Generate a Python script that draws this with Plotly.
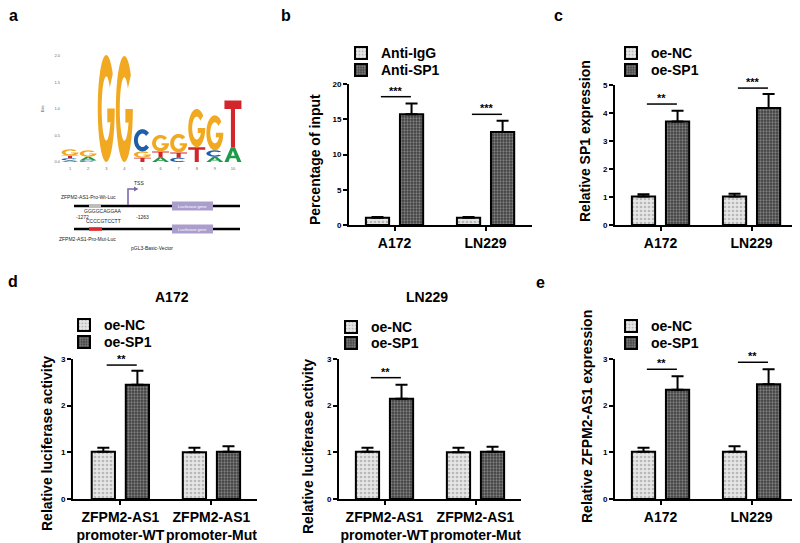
import numpy as np
import plotly.graph_objects as go

# The page body has an 8px margin, so the figure is drawn 8px in and
# reference pixel coordinates are shifted accordingly.
PAD = 8
W, H = 800 - PAD, 543 - PAD
FONT = "Arial, Liberation Sans, sans-serif"


def fx(p):
    return (p - PAD) / W


def fy(p):
    return 1 - (p - PAD) / H


# ---------------- DATA ----------------
# panel a : sequence logo (bits per letter, positions 1..10)
logo_pos = [1, 2, 3, 4, 5, 6, 7, 8, 9, 10]
logo_G = [0.12, 0.12, 2.02, 2.00, 0.12, 0.31, 0.35, 0.72, 0.66, 0.00]
logo_C = [0.04, 0.03, 0.00, 0.00, 0.42, 0.00, 0.08, 0.00, 0.12, 0.00]
logo_T = [0.05, 0.00, 0.00, 0.00, 0.08, 0.11, 0.10, 0.28, 0.00, 0.88]
logo_A = [0.03, 0.07, 0.00, 0.00, 0.00, 0.09, 0.00, 0.00, 0.10, 0.28]
logo_yticks = [0.0, 0.5, 1.0, 1.5, 2.0]

# panel b : ChIP
b_groups = ["A172", "LN229"]
b_igg = [1.04, 1.04]
b_igg_err = [0.08, 0.08]
b_sp1 = [15.7, 13.2]
b_sp1_err = [1.55, 1.6]
b_sig_y = [18.2, 15.7]
b_sig = ["***", "***"]

# panel c : SP1 expression
c_groups = ["A172", "LN229"]
c_nc = [1.02, 1.02]
c_nc_err = [0.08, 0.10]
c_sp1 = [3.70, 4.18]
c_sp1_err = [0.38, 0.50]
c_sig_y = [4.32, 4.89]
c_sig = ["**", "***"]

# panel d : luciferase activity
d_groups = ["ZFPM2-AS1<br>promoter-WT", "ZFPM2-AS1<br>promoter-Mut"]
d1_nc = [1.01, 1.00]
d1_nc_err = [0.09, 0.10]
d1_sp1 = [2.45, 1.01]
d1_sp1_err = [0.30, 0.12]
d1_sig_y = [2.87, None]
d1_sig = ["**", ""]

d2_nc = [1.01, 1.00]
d2_nc_err = [0.09, 0.10]
d2_sp1 = [2.15, 1.01]
d2_sp1_err = [0.30, 0.11]
d2_sig_y = [2.60, None]
d2_sig = ["**", ""]

# panel e : ZFPM2-AS1 expression
e_groups = ["A172", "LN229"]
e_nc = [1.01, 1.01]
e_nc_err = [0.09, 0.12]
e_sp1 = [2.34, 2.46]
e_sp1_err = [0.29, 0.32]
e_sig_y = [2.78, 2.93]
e_sig = ["**", "**"]

# ---------------- STYLE ----------------
OFF = 0.187
BW = 0.255
SIG_L, SIG_R = -0.15, 0.18
LIGHT = dict(shape=".", fgcolor="#8a8a8a", bgcolor="#e6e6e6", size=4, solidity=0.35)
DARK = dict(shape=".", fgcolor="#c4c4c4", bgcolor="#3e3e3e", size=3, solidity=0.45)
LOGO_COL = {"G": "#f2a922", "C": "#1f5ea8", "T": "#d3262b", "A": "#1d9a4a"}

fig = go.Figure()
annotations = []
shapes = []


def bold(size, color="black"):
    return dict(family=FONT, size=size, color=color, weight="bold")


def bar_panel(k, groups, n1, v1, e1, n2, v2, e2, sig_y, sig, leg1, leg2):
    xa, ya = f"x{k}", f"y{k}"
    idx = list(range(len(groups)))
    for name, vals, errs, off, pat, leg in [
        (n1, v1, e1, -OFF, LIGHT, leg1),
        (n2, v2, e2, OFF, DARK, leg2),
    ]:
        fig.add_trace(go.Bar(
            x=[i + off for i in idx], y=vals, width=BW, name=name,
            xaxis=xa, yaxis=ya, legend=leg,
            marker=dict(color=pat["bgcolor"], pattern=pat,
                        line=dict(color="black", width=2)),
            error_y=dict(type="data", array=errs, arrayminus=[0] * len(errs),
                         symmetric=False, color="black", thickness=2, width=6),
        ))
    for i, (sy, st) in enumerate(zip(sig_y, sig)):
        if sy is None:
            continue
        fig.add_trace(go.Scatter(
            x=[i + SIG_L, i + SIG_R], y=[sy, sy], mode="lines",
            line=dict(color="black", width=1.5), xaxis=xa, yaxis=ya,
            showlegend=False, hoverinfo="skip"))
        annotations.append(dict(
            x=i + (SIG_L + SIG_R) / 2, y=sy, xref=xa, yref=ya, text=st,
            showarrow=False, xanchor="center", yanchor="bottom", yshift=-2,
            font=bold(11)))


bar_panel(2, b_groups, "Anti-IgG", b_igg, b_igg_err, "Anti-SP1", b_sp1, b_sp1_err,
          b_sig_y, b_sig, "legend", "legend2")
bar_panel(3, c_groups, "oe-NC", c_nc, c_nc_err, "oe-SP1", c_sp1, c_sp1_err,
          c_sig_y, c_sig, "legend3", "legend4")
bar_panel(4, d_groups, "oe-NC", d1_nc, d1_nc_err, "oe-SP1", d1_sp1, d1_sp1_err,
          d1_sig_y, d1_sig, "legend5", "legend6")
bar_panel(5, d_groups, "oe-NC", d2_nc, d2_nc_err, "oe-SP1", d2_sp1, d2_sp1_err,
          d2_sig_y, d2_sig, "legend7", "legend8")
bar_panel(6, e_groups, "oe-NC", e_nc, e_nc_err, "oe-SP1", e_sp1, e_sp1_err,
          e_sig_y, e_sig, "legend9", "legend10")

# ---------------- LOGO (panel a) ----------------


def unit_glyph(letter):
    if letter == "T":
        return [[(0, 1), (1, 1), (1, 0.82), (0.62, 0.82), (0.62, 0), (0.38, 0),
                 (0.38, 0.82), (0, 0.82)]]
    if letter == "A":
        return [[(0, 0), (0.38, 1), (0.62, 1), (1, 0), (0.76, 0), (0.68, 0.26),
                 (0.32, 0.26), (0.24, 0)],
                [(0.39, 0.42), (0.61, 0.42), (0.5, 0.76)]]
    if letter == "C":
        t = np.radians(np.linspace(40, 320, 40))
        outer = [(0.5 + 0.5 * np.cos(a), 0.5 + 0.5 * np.sin(a)) for a in t]
        inner = [(0.5 + 0.27 * np.cos(a), 0.5 + 0.3 * np.sin(a)) for a in t[::-1]]
        return [outer + inner]
    # G
    t = np.radians(np.linspace(40, 360, 44))
    outer = [(0.5 + 0.5 * np.cos(a), 0.5 + 0.5 * np.sin(a)) for a in t]
    t2 = np.radians(np.linspace(335, 40, 40))
    inner = [(0.5 + 0.27 * np.cos(a), 0.5 + 0.3 * np.sin(a)) for a in t2]
    return [outer + [(0.56, 0.5), (0.56, 0.37)] + inner]


def glyph_path(letter, xc, y0, h, w=0.94):
    parts = []
    for poly in unit_glyph(letter):
        pts = [(xc + (u - 0.5) * w, y0 + v * h) for u, v in poly]
        parts.append("M" + " L".join(f"{X:.4f},{Y:.5f}" for X, Y in pts) + " Z")
    return " ".join(parts)


for i, p in enumerate(logo_pos):
    stack = sorted([("G", logo_G[i]), ("C", logo_C[i]), ("T", logo_T[i]), ("A", logo_A[i])],
                   key=lambda s: s[1])
    base = 0.0
    for letter, h in stack:
        if h <= 0:
            continue
        shapes.append(dict(type="path", path=glyph_path(letter, p, base, h),
                           xref="x", yref="y", fillcolor=LOGO_COL[letter],
                           line=dict(width=0), layer="above"))
        base += h

# invisible trace to anchor logo axes
fig.add_trace(go.Scatter(x=logo_pos, y=[0] * len(logo_pos), mode="markers",
                         marker=dict(opacity=0), xaxis="x", yaxis="y",
                         showlegend=False, hoverinfo="skip"))

# ---------------- promoter diagram ----------------
PUR = "#7b69a9"


def pline(x0, x1, y, color, width):
    shapes.append(dict(type="line", xref="paper", yref="paper", x0=fx(x0), x1=fx(x1),
                       y0=fy(y), y1=fy(y), line=dict(color=color, width=width)))


def prect(x0, x1, y0, y1, color):
    shapes.append(dict(type="rect", xref="paper", yref="paper", x0=fx(x0), x1=fx(x1),
                       y0=fy(y1), y1=fy(y0), fillcolor=color, line=dict(width=0)))


def ptext(x, y, t, size=5, color="#222", angle=0, font=None):
    annotations.append(dict(x=fx(x), y=fy(y), xref="paper", yref="paper", text=t,
                            showarrow=False, xanchor="center", yanchor="middle",
                            textangle=angle,
                            font=font or dict(family=FONT, size=size, color=color)))


pline(74, 240, 206, "black", 2.5)
pline(89, 101, 206, "#bdbdbd", 3)
prect(172, 213, 201.5, 210.5, "#ab9dcc")
ptext(192.5, 206, "Luciferase gene", size=4, color="white")
pline(74, 240, 229, "black", 2.5)
pline(89, 102, 229, "#e5262b", 3.5)
prect(172, 213, 224.5, 233.5, "#ab9dcc")
ptext(192.5, 229, "Luciferase gene", size=4, color="white")
shapes.append(dict(type="path", xref="paper", yref="paper",
                   path=f"M{fx(128)},{fy(205)} L{fx(128)},{fy(189)} L{fx(135)},{fy(189)}",
                   line=dict(color=PUR, width=1.6)))
shapes.append(dict(type="path", xref="paper", yref="paper",
                   path=f"M{fx(134)},{fy(186.5)} L{fx(138.5)},{fy(189)} L{fx(134)},{fy(191.5)} Z",
                   fillcolor=PUR, line=dict(width=0)))
ptext(139, 183, "TSS")
ptext(88, 197, "ZFPM2-AS1-Pro-Wt-Luc")
ptext(82, 217, "-1272")
ptext(103, 211, "GGGGCAGGAA")
ptext(103, 221, "CCCCGTCCTT")
ptext(142, 217, "-1263")
ptext(87, 239, "ZFPM2-AS1-Pro-Mut-Luc")
ptext(152, 248, "pGL3-Basic-Vector")
ptext(42, 109, "Bits", size=4, color="#555", angle=-90)

# ---------------- text labels ----------------
for t, x, y in [("a", 13, 15), ("b", 286, 15), ("c", 558, 15), ("d", 13, 281),
                ("e", 540, 283)]:
    ptext(x, y, t, font=bold(16))
for t, x, y in [("A172", 172, 297), ("LN229", 427, 297)]:
    ptext(x, y, t, font=bold(14))
for t, x, y in [("Percentage of input", 315, 160), ("Relative SP1 expression", 585, 141),
                ("Relative luciferase activity", 47, 444),
                ("Relative luciferase activity", 308, 447),
                ("Relative ZFPM2-AS1 expression", 587, 417)]:
    ptext(x, y, t, angle=-90, font=bold(14))

# ---------------- axes ----------------
layout = dict(width=W, height=H, margin=dict(l=0, r=0, t=0, b=0, autoexpand=False),
              paper_bgcolor="white", plot_bgcolor="white", barmode="overlay",
              annotations=annotations, shapes=shapes, hovermode=False)

layout["xaxis"] = dict(domain=[fx(61), fx(242)], range=[0.5, 10.5], anchor="y",
                       tickvals=logo_pos, ticks="", showline=False, showgrid=False,
                       zeroline=False, automargin=False,
                       tickfont=dict(family=FONT, size=4, color="#666"))
layout["yaxis"] = dict(domain=[fy(164.65), fy(50.7)], range=[-0.05, 2.1], anchor="x",
                       tickvals=logo_yticks, ticktext=[f"{v:.1f}" for v in logo_yticks],
                       ticks="", showline=False, showgrid=False, zeroline=False,
                       automargin=False,
                       tickfont=dict(family=FONT, size=4, color="#666"))


def bar_axes(k, groups, xpx, xr, ypx, ymax, dtick, xfont):
    layout[f"xaxis{k}"] = dict(
        domain=[fx(xpx[0]), fx(xpx[1])], range=xr, anchor=f"y{k}",
        tickvals=list(range(len(groups))), ticktext=groups, tickfont=bold(xfont),
        tickangle=0, automargin=False,
        showline=True, linecolor="black", linewidth=2, ticks="outside", ticklen=4,
        tickwidth=2, tickcolor="black", showgrid=False, zeroline=False)
    layout[f"yaxis{k}"] = dict(
        domain=[fy(ypx[0]), fy(ypx[1])], range=[0, ymax], anchor=f"x{k}", dtick=dtick,
        tickfont=bold(8), showline=True, linecolor="black", linewidth=2,
        automargin=False,
        ticks="outside", ticklen=4, tickwidth=2, tickcolor="black",
        showgrid=False, zeroline=False)


bar_axes(2, b_groups, (349, 532), [-0.5, 1.51], (225, 84), 20, 5, 14)
bar_axes(3, c_groups, (615, 798), [-0.5, 1.51], (225, 85), 5, 1, 14)
bar_axes(4, d_groups, (73, 257), [-0.52, 1.5], (499, 359), 3, 1, 14)
bar_axes(5, d_groups, (339, 521), [-0.5, 1.5], (499, 359), 3, 1, 14)
bar_axes(6, e_groups, (615, 798), [-0.5, 1.51], (499, 359), 3, 1, 14)

# ---------------- legends (one entry each, panel style) ----------------
leg_pos = [(377, 53), (377, 70), (647, 53), (647, 70), (100, 325), (100, 342),
           (367, 327), (367, 343), (647, 326), (647, 343)]
for j, (tx, ty) in enumerate(leg_pos):
    key = "legend" if j == 0 else f"legend{j + 1}"
    layout[key] = dict(x=fx(tx - 36), y=fy(ty - 15.6), xanchor="left", yanchor="top",
                       bgcolor="rgba(0,0,0,0)", borderwidth=0, font=bold(14))

fig.update_layout(**layout)
fig.write_html("out.html")
